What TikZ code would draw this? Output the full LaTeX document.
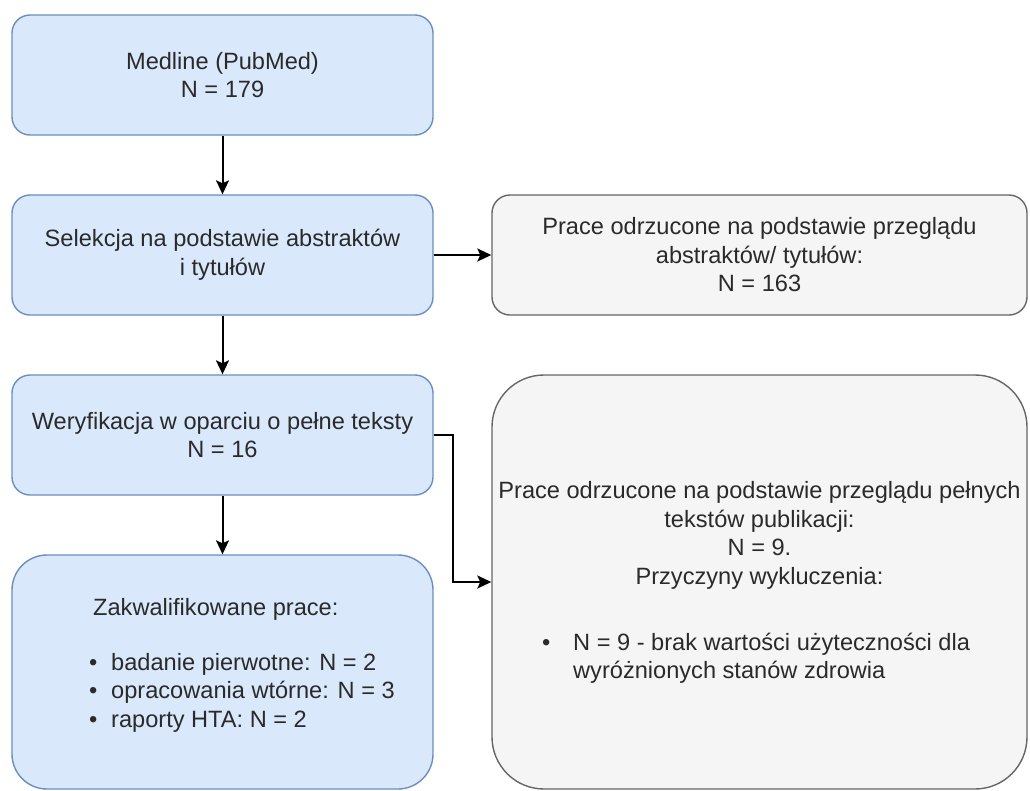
\documentclass[tikz,border=0pt]{standalone}
\usepackage{fontspec}
\setmainfont{Liberation Sans}
\usetikzlibrary{arrows.meta}

\definecolor{bluefill}{HTML}{DAE8FC}
\definecolor{bluestroke}{HTML}{6C8EBF}
\definecolor{grayfill}{HTML}{F5F5F5}
\definecolor{graystroke}{HTML}{666666}
\definecolor{txtcol}{HTML}{2A2A2A}

\newcommand\bodyfont{\fontsize{23.6}{28.5}\selectfont}

\tikzset{
  stage/.style={draw=bluestroke, fill=bluefill, line width=1.4pt,
    rounded corners=18pt, minimum width=421pt, minimum height=120pt,
    inner sep=0pt, align=center, text=txtcol, font=\bodyfont},
  excluded/.style={draw=graystroke, fill=grayfill, line width=1.4pt,
    rounded corners=18pt, minimum width=535pt, minimum height=120pt,
    inner sep=0pt, align=center, text=txtcol, font=\bodyfont},
  label/.style={inner sep=0pt, text=txtcol, font=\bodyfont, anchor=base west},
  flow/.style={draw=black, line width=2pt,
    -{Stealth[length=14pt, width=13pt, inset=3pt]}}
}

\begin{document}
\begin{tikzpicture}[x=1pt, y=-1pt]
  \useasboundingbox (0,0) rectangle (1030,790);

  % left column: stages of the search
  \node[stage] (src) at (222.5,75) {Medline (PubMed)\\N = 179};
  \node[stage] (sel) at (222.5,255) {Selekcja na podstawie abstraktów\\i tytułów};
  \node[stage] (ver) at (222.5,435) {Weryfikacja w oparciu o pełne teksty\\N = 16};
  \node[stage, rounded corners=35pt, minimum height=234pt] (inc) at (222.5,672) {};

  % right column: excluded records
  \node[excluded] (exA) at (759.5,255)
    {Prace odrzucone na podstawie przeglądu\\abstraktów/ tytułów:\\N = 163};
  \node[excluded, rounded corners=52pt, minimum height=414pt] (exF) at (759.5,582) {};

  % contents of the included-studies box
  \node[label] (incT) at (93,615) {Zakwalifikowane prace:};
  \node[label] (incB1) at (89,670) {•};
  \node[label] (incL1) at (111,670) {badanie pierwotne: N = 2};
  \node[label] (incB2) at (89,698.5) {•};
  \node[label] (incL2) at (111,698.5) {opracowania wtórne: N = 3};
  \node[label] (incB3) at (89,727) {•};
  \node[label] (incL3) at (111,727) {raporty HTA: N = 2};

  % contents of the full-text exclusion box (anchored on its last line)
  \node[inner sep=0pt, text=txtcol, font=\bodyfont, align=center, anchor=base]
    (exFT) at (759.5,584)
    {Prace odrzucone na podstawie przeglądu pełnych\\tekstów publikacji:\\N = 9.\\Przyczyny wykluczenia:};
  \node[label] (exFB) at (542,650) {•};
  \node[label] (exFL1) at (573,650) {N = 9 - brak wartości użyteczności dla};
  \node[label] (exFL2) at (573,678.5) {wyróżnionych stanów zdrowia};

  % connectors
  \draw[flow] (src.south) -- (sel.north);
  \draw[flow] (sel.south) -- (ver.north);
  \draw[flow] (ver.south) -- (inc.north);
  \draw[flow] (sel.east) -- (exA.west);
  \draw[flow] (ver.east) -- ++(19,0) |- (exF.west);
\end{tikzpicture}
\end{document}
